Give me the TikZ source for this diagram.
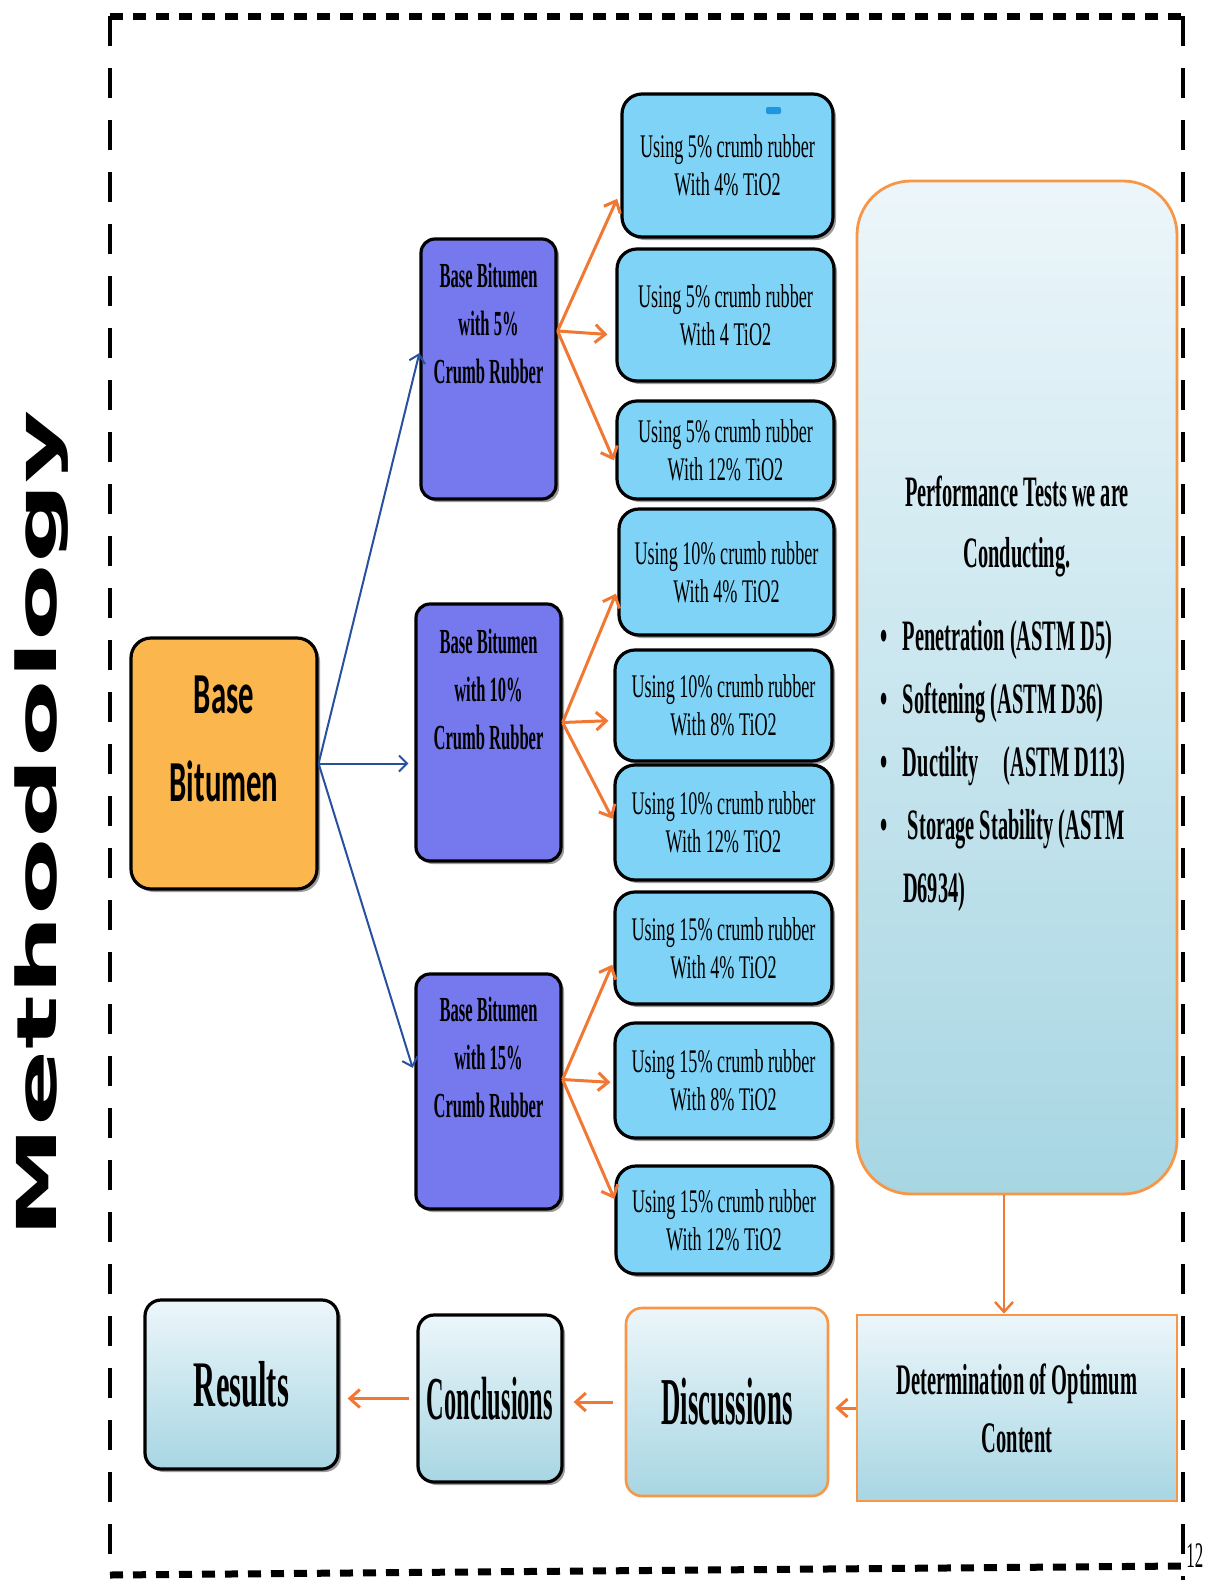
\documentclass[tikz,border=0pt]{standalone}
\usepackage{fontspec}
\usetikzlibrary{arrows.meta,positioning,shadows}
\newfontfamily\slimfont[FakeStretch=0.55]{Liberation Serif}
\newfontfamily\tallfont[FakeStretch=0.47]{Liberation Serif}
\newfontfamily\slimmestfont[FakeStretch=0.4]{Liberation Serif}
\newfontfamily\basefont[FakeStretch=0.53]{Carlito}
\newfontfamily\titlefont[FakeStretch=2.05]{DejaVu Sans}
\definecolor{MixCyan}{RGB}{126,211,246}
\definecolor{BitPurple}{RGB}{118,120,238}
\definecolor{BaseOrange}{RGB}{251,182,77}
\definecolor{PaleBlue}{RGB}{236,246,250}
\definecolor{MidBlue}{RGB}{167,214,227}
\definecolor{EdgeOrange}{RGB}{247,150,70}
\definecolor{ArrowOrange}{RGB}{240,120,50}
\definecolor{ArrowBlue}{RGB}{40,80,160}
\definecolor{MarkBlue}{RGB}{30,150,225}
\tikzset{
  boxshadow/.style={drop shadow={shadow xshift=1.5pt,shadow yshift=-1.5pt,opacity=0.55,fill=black!70}},
  mixbox/.style={draw=black,line width=1.6pt,rounded corners=10pt,fill=MixCyan,boxshadow,
    align=center,inner sep=2pt,font=\slimfont\fontsize{16.5}{19}\selectfont},
  bitbox/.style={draw=black,line width=1.6pt,rounded corners=7pt,fill=BitPurple,boxshadow,
    inner sep=0pt,font=\tallfont\bfseries\fontsize{17.6}{24}\selectfont},
  basebox/.style={bitbox,rounded corners=10pt,fill=BaseOrange,
    font=\basefont\bfseries\fontsize{29}{44}\selectfont},
  stepbox/.style={draw=black,line width=1.6pt,rounded corners=8pt,top color=PaleBlue,
    bottom color=MidBlue,boxshadow,align=center,inner sep=2pt},
  hotbox/.style={draw=EdgeOrange,line width=1.3pt,rounded corners=8pt,top color=PaleBlue,
    bottom color=MidBlue,align=center,inner sep=2pt},
  testbox/.style={hotbox,line width=1.4pt,rounded corners=27pt,inner sep=0pt,
    font=\tallfont\bfseries\fontsize{21.7}{30.5}\selectfont},
  bluearrow/.style={-{Straight Barb[length=4pt,width=8pt]},line width=1pt,ArrowBlue},
  hotarrow/.style={-{Straight Barb[length=5pt,width=9pt]},line width=1.5pt,ArrowOrange,shorten >=2pt},
  hdash/.style={line width=3.5pt,dash pattern=on 6.5pt off 5pt},
  vdash/.style={line width=2pt,dash pattern=on 15pt off 11pt}
}
\begin{document}
\begin{tikzpicture}[x=0.5pt,y=-0.5pt]
  \useasboundingbox (0,0) rectangle (1208,1580);
  % dashed frame
  \draw[hdash] (110,16) -- (1183,16);
  \draw[vdash] (110,16) -- (110,1575);
  \draw[hdash] (110,1575) -- (1183,1566);
  \draw[vdash] (1183,16) -- (1183,1580);
  \node[font=\tallfont\fontsize{18}{18}\selectfont,anchor=west,inner sep=0pt] (page) at (1186,1556) {12};
  \node[rotate=90,anchor=base,font=\titlefont\bfseries\fontsize{27.5}{27.5}\selectfont] (title) at (56,824) {Methodology};

  \node[basebox,minimum width=93pt] (base) at (224,763.5)
    {\parbox[c][125.5pt][t]{88pt}{\centering\vspace*{19pt}Base\\Bitumen}};

  \node[bitbox,minimum width=67.5pt] (bb5) at (488.5,369)
    {\parbox[c][130pt][t]{62pt}{\centering\vspace*{12pt}Base Bitumen\\with 5\%\\Crumb Rubber}};
  \node[bitbox,minimum width=72.5pt] (bb10) at (488.5,732.5)
    {\parbox[c][128.5pt][t]{62pt}{\centering\vspace*{12.5pt}Base Bitumen\\with 10\%\\Crumb Rubber}};
  \node[bitbox,minimum width=72.5pt] (bb15) at (488.5,1091.5)
    {\parbox[c][117.5pt][t]{62pt}{\centering\vspace*{11.5pt}Base Bitumen\\with 15\%\\Crumb Rubber}};

  \node[mixbox,minimum width=105.5pt,minimum height=71.5pt] (s1) at (727.5,165.5) {Using 5\% crumb rubber\\With 4\% TiO2};
  \node[mixbox,minimum width=108.5pt,minimum height=66pt] (s2) at (725.5,315) {Using 5\% crumb rubber\\With 4 TiO2};
  \node[mixbox,minimum width=108.5pt,minimum height=49pt] (s3) at (725.5,450) {Using 5\% crumb rubber\\With 12\% TiO2};
  \node[mixbox,minimum width=107.5pt,minimum height=63pt] (s4) at (726.5,572) {Using 10\% crumb rubber\\With 4\% TiO2};
  \node[mixbox,minimum width=108.5pt,minimum height=55.5pt] (s5) at (723.5,705.5) {Using 10\% crumb rubber\\With 8\% TiO2};
  \node[mixbox,minimum width=108.5pt,minimum height=57.5pt] (s6) at (723.5,822.5) {Using 10\% crumb rubber\\With 12\% TiO2};
  \node[mixbox,minimum width=108.5pt,minimum height=56pt] (s7) at (723.5,948) {Using 15\% crumb rubber\\With 4\% TiO2};
  \node[mixbox,minimum width=108.5pt,minimum height=57.5pt] (s8) at (723.5,1080.5) {Using 15\% crumb rubber\\With 8\% TiO2};
  \node[mixbox,minimum width=108pt,minimum height=54pt] (s9) at (724,1220) {Using 15\% crumb rubber\\With 12\% TiO2};
  \fill[MarkBlue,rounded corners=1pt] (766,107) rectangle (781,114);

  \node[testbox,minimum width=160pt,minimum height=506.5pt] (tests) at (1017,687.5)
    {\parbox{140pt}{\vspace*{6pt}\centering Performance Tests we are\\Conducting.\par
      \vspace{10pt}\raggedright\fontsize{21.7}{31.5}\selectfont
      \hangindent=13pt\hangafter=1
      \makebox[13pt][l]{\hspace{1.5pt}\textbullet}Penetration (ASTM D5)\par
      \hangindent=13pt\hangafter=1
      \makebox[13pt][l]{\hspace{1.5pt}\textbullet}Softening (ASTM D36)\par
      \hangindent=13pt\hangafter=1
      \makebox[13pt][l]{\hspace{1.5pt}\textbullet}Ductility\hspace{12.5pt}(ASTM D113)\par
      \hangindent=13pt\hangafter=1
      \makebox[13pt][l]{\hspace{1.5pt}\textbullet}\hspace{2.5pt}Storage Stability (ASTM\newline D6934)\par}};

  \node[hotbox,rounded corners=0pt,minimum width=160pt,minimum height=93pt,
    font=\tallfont\bfseries\fontsize{21.8}{29}\selectfont] (optimum) at (1017,1408) {Determination of Optimum\\Content};
  \node[hotbox,minimum width=101pt,minimum height=94pt,
    font=\slimmestfont\bfseries\fontsize{33.5}{36}\selectfont] (disc) at (727,1402) {Discussions};
  \node[stepbox,minimum width=72pt,minimum height=83.5pt,
    font=\slimmestfont\bfseries\fontsize{30.5}{33}\selectfont] (concl) at (490,1398.5) {Conclusions};
  \node[stepbox,minimum width=96.5pt,minimum height=84.5pt,
    font=\tallfont\bfseries\fontsize{32.5}{35}\selectfont] (results) at (241.5,1384.5) {Results};

  % base bitumen to the three blends
  \draw[bluearrow] (base.east) -- ([yshift=8pt]bb5.west);
  \draw[bluearrow,shorten >=3pt] (base.east) -- (base.east -| bb10.west);
  \draw[bluearrow,shorten >=3pt] (base.east) -- ([yshift=9pt]bb15.west);

  % blends to the TiO2 mixes
  \coordinate (f5) at ([yshift=19pt]bb5.east);
  \coordinate (f10) at ([yshift=5pt]bb10.east);
  \coordinate (f15) at ([yshift=6pt]bb15.east);
  \draw[hotarrow,shorten >=4pt] (f5) -- ([yshift=-13pt]s1.west);
  \draw[hotarrow,shorten >=4pt] (f5) -- ([yshift=-10pt]s2.west);
  \draw[hotarrow] (f5) -- ([yshift=-7pt]s3.west);
  \draw[hotarrow] (f10) -- ([yshift=-9pt]s4.west);
  \draw[hotarrow,shorten >=2.5pt] (f10) -- ([yshift=-7.5pt]s5.west);
  \draw[hotarrow,shorten >=1pt] (f10) -- ([yshift=1pt]s6.west);
  \draw[hotarrow,shorten >=1.5pt] (f15) -- ([yshift=-7pt]s7.west);
  \draw[hotarrow,shorten >=1.5pt] (f15) -- ([yshift=-1pt]s8.west);
  \draw[hotarrow,shorten >=0pt] (f15) -- ([yshift=10.5pt]s9.west);

  % bottom row
  \draw[hotarrow,line width=1.2pt,shorten >=0pt] ([xshift=-6.5pt]tests.south) -- ([xshift=-6.5pt]optimum.north);
  \draw[hotarrow,shorten >=3pt] (optimum.west) -- (optimum.west -| disc.east);
  \draw[hotarrow,shorten <=6pt,shorten >=5pt] (disc.west) -- (disc.west -| concl.east);
  \draw[hotarrow,shorten <=3.5pt,shorten >=4pt] (concl.west) -- (concl.west -| results.east);
\end{tikzpicture}
\end{document}
